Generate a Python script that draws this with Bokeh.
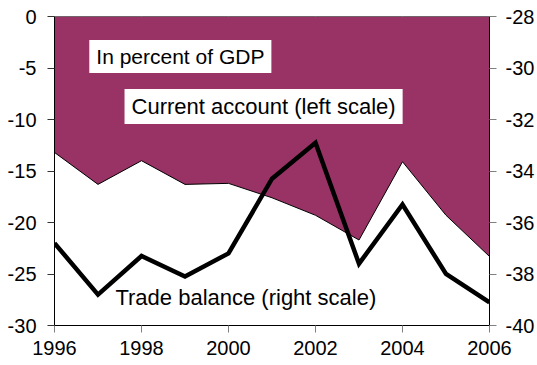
from bokeh.plotting import figure
from bokeh.models import Range1d, LinearAxis, Label, FixedTicker
from bokeh.embed import file_html
from bokeh.resources import INLINE

years = [1996, 1997, 1998, 1999, 2000, 2001, 2002, 2003, 2004, 2005, 2006]
current_account = [-13.2, -16.3, -14.0, -16.3, -16.2, -17.6, -19.3, -21.7, -14.1, -19.3, -23.3]
trade_balance = [-36.8, -38.8, -37.3, -38.1, -37.2, -34.3, -32.9, -37.6, -35.3, -38.0, -39.1]
x_ticks = [1996, 1998, 2000, 2002, 2004, 2006]
left_ticks = [0, -5, -10, -15, -20, -25, -30]
right_ticks = [-28, -30, -32, -34, -36, -38, -40]

FONT = "Liberation Sans"
FILL = "#993366"

p = figure(width=537, height=365, output_backend="svg", toolbar_location=None,
           x_range=Range1d(1996, 2006), y_range=Range1d(-30, 0),
           min_border_left=54, min_border_right=47, min_border_top=16, min_border_bottom=40)
p.extra_y_ranges = {"right": Range1d(-40, -28)}
p.outline_line_color = None
p.xgrid.visible = False
p.ygrid.visible = False
p.background_fill_color = "white"
p.border_fill_color = "white"

# area above the current account line, up to 0
p.patch(years + years[::-1], current_account + [0] * len(years),
        fill_color=FILL, line_color="black", line_width=1)

# trade balance on right scale
p.line(years, trade_balance, y_range_name="right", line_color="black", line_width=4.5,
       line_join="miter")

def style_axis(ax, tick_color, standoff, ticks):
    ax.ticker = FixedTicker(ticks=ticks)
    ax.major_label_overrides = {t: str(t) for t in ticks}
    ax.axis_line_color = "black"
    ax.axis_line_width = 1
    ax.major_tick_line_color = tick_color
    ax.major_tick_in = 0
    ax.major_tick_out = 7
    ax.minor_tick_line_color = None
    ax.major_label_text_font = FONT
    ax.major_label_text_font_size = "20px"
    ax.major_label_text_color = "black"
    ax.major_label_standoff = standoff

style_axis(p.xaxis[0], "#808080", 8, x_ticks)
style_axis(p.yaxis[0], "#333333", 11, left_ticks)

ra = LinearAxis(y_range_name="right")
style_axis(ra, "#808080", 9, right_ticks)
p.add_layout(ra, "right")

def add_label(x, y, text, size, box):
    kw = dict(x=x, y=y, text=text, text_font=FONT, text_font_size=size,
              text_color="black", text_align="left", text_baseline="middle")
    if box:
        kw.update(background_fill_color="white", padding=(7, 5))
    p.add_layout(Label(**kw))

add_label(1996.80, -3.88, "In percent of GDP", "21px", True)
add_label(1997.61, -8.74, "Current account (left scale)", "22px", True)
add_label(1997.40, -27.28, "Trade balance (right scale)", "22px", False)

open("out.html", "w").write(file_html(p, INLINE))
